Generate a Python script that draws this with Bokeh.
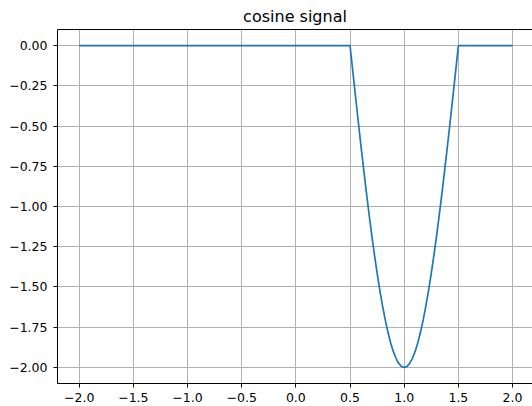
from bokeh.plotting import figure
from bokeh.models import Range1d, FixedTicker, LinearAxis, Grid
from bokeh.embed import file_html
from bokeh.resources import INLINE

# data
x_vals = [-2.0, 0.5, 0.525, 0.55, 0.575, 0.6, 0.625, 0.65, 0.675, 0.7, 0.725, 0.75,
          0.775, 0.8, 0.825, 0.85, 0.875, 0.9, 0.925, 0.95, 0.975, 1.0,
          1.025, 1.05, 1.075, 1.1, 1.125, 1.15, 1.175, 1.2, 1.225, 1.25,
          1.275, 1.3, 1.325, 1.35, 1.375, 1.4, 1.425, 1.45, 1.475, 1.5, 2.0]
y_vals = [0.0, 0.0, -0.157, -0.313, -0.467, -0.618, -0.765, -0.908, -1.045, -1.176, -1.299, -1.414,
          -1.521, -1.618, -1.705, -1.782, -1.848, -1.902, -1.945, -1.975, -1.994, -2.0,
          -1.994, -1.975, -1.945, -1.902, -1.848, -1.782, -1.705, -1.618, -1.521, -1.414,
          -1.299, -1.176, -1.045, -0.908, -0.765, -0.618, -0.467, -0.313, -0.157, 0.0, 0.0]

x_ticks = [-2.0, -1.5, -1.0, -0.5, 0.0, 0.5, 1.0, 1.5, 2.0]
x_tick_labels = ["\u22122.0", "\u22121.5", "\u22121.0", "\u22120.5", "0.0", "0.5", "1.0", "1.5", "2.0"]
y_ticks = [0.0, -0.25, -0.5, -0.75, -1.0, -1.25, -1.5, -1.75, -2.0]
y_tick_labels = ["0.00", "\u22120.25", "\u22120.50", "\u22120.75", "\u22121.00",
                 "\u22121.25", "\u22121.50", "\u22121.75", "\u22122.00"]
title_text = "cosine signal"

FONT = "DejaVu Sans"

p = figure(width=532, height=406, output_backend="svg", toolbar_location=None,
           x_range=Range1d(-2.2, 2.184), y_range=Range1d(-2.1, 0.1),
           min_border_left=57, min_border_right=0, min_border_top=29, min_border_bottom=23,
           x_axis_location=None, y_axis_location=None)

p.title.text = title_text
p.title.text_font = FONT
p.title.text_font_size = "16px"
p.title.text_font_style = "normal"
p.title.align = "center"
p.title.text_color = "black"
p.title.offset = 0
p.title.standoff = 7

p.outline_line_color = None
p.background_fill_color = "white"
p.border_fill_color = "white"

xax = LinearAxis(ticker=FixedTicker(ticks=x_ticks),
                 major_label_overrides={t: l for t, l in zip(x_ticks, x_tick_labels)})
yax = LinearAxis(ticker=FixedTicker(ticks=y_ticks),
                 major_label_overrides={t: l for t, l in zip(y_ticks, y_tick_labels)})
for ax in (xax, yax):
    ax.axis_line_color = "black"
    ax.axis_line_width = 1
    ax.major_tick_line_color = "black"
    ax.major_tick_out = 4
    ax.major_tick_in = 0
    ax.minor_tick_line_color = None
    ax.major_label_text_font = FONT
    ax.major_label_text_font_size = "12.5px"
    ax.major_label_text_color = "black"
xax.major_label_standoff = 5
yax.major_label_standoff = 6
p.add_layout(xax, "below")
p.add_layout(yax, "left")

top = LinearAxis(ticker=FixedTicker(ticks=[]), major_label_text_font_size="0px",
                 axis_line_color="black", axis_line_width=1,
                 major_tick_line_color=None, minor_tick_line_color=None)
p.add_layout(top, "above")

p.add_layout(Grid(dimension=0, ticker=xax.ticker, grid_line_color="#b0b0b0", grid_line_width=1))
p.add_layout(Grid(dimension=1, ticker=yax.ticker, grid_line_color="#b0b0b0", grid_line_width=1))

p.line(x_vals, y_vals, line_color="#1f77b4", line_width=1.7)

open("out.html", "w").write(file_html(p, INLINE))
